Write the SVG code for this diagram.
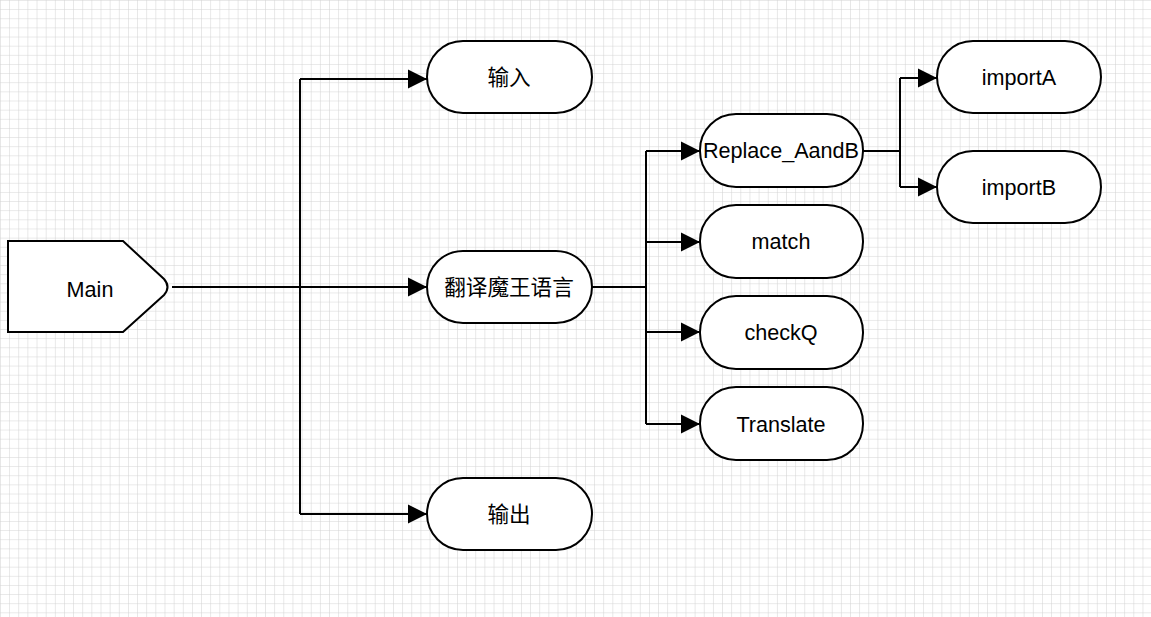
<svg xmlns="http://www.w3.org/2000/svg" width="1151" height="617" viewBox="0 0 1151 617">
<style>
.n{fill:#fff;stroke:#000;stroke-width:2}
.t{font-family:"Liberation Sans","Noto Sans CJK SC",sans-serif;font-size:21.6px;fill:#000;text-anchor:middle}
.c{fill:none;stroke:#000;stroke-width:2}
</style>
<defs>
<pattern id="g" width="9.14" height="9.14" patternUnits="userSpaceOnUse">
<path d="M0 0H9.14M0 0V9.14" fill="none" stroke="#d2d2d2" stroke-width="1"/>
</pattern>
<marker id="a2" viewBox="0 0 10 10" refX="10" refY="5" markerWidth="19" markerHeight="20" markerUnits="userSpaceOnUse" orient="auto">
<path d="M0 0L10 5L0 10Z" fill="#000"/>
</marker>
</defs>
<rect width="1151" height="617" fill="#fff"/>
<rect width="1151" height="617" fill="url(#g)"/>
<g id="connectors">
<path class="c" d="M172 287H300"/>
<path class="c" d="M300 79V514"/>
<path class="c" d="M300 79H427" marker-end="url(#a2)"/>
<path class="c" d="M300 287H427" marker-end="url(#a2)"/>
<path class="c" d="M300 514H427" marker-end="url(#a2)"/>
<path class="c" d="M592 287H646"/>
<path class="c" d="M646 151V424"/>
<path class="c" d="M646 151H700" marker-end="url(#a2)"/>
<path class="c" d="M646 242H700" marker-end="url(#a2)"/>
<path class="c" d="M646 332H700" marker-end="url(#a2)"/>
<path class="c" d="M646 424H700" marker-end="url(#a2)"/>
<path class="c" d="M863 151H900"/>
<path class="c" d="M900 78V187"/>
<path class="c" d="M900 78H937" marker-end="url(#a2)"/>
<path class="c" d="M900 187H937" marker-end="url(#a2)"/>
</g>
<g id="main">
<path class="n" d="M8 241H123L164 279Q171 287 164 295L123 332H8Z"/>
<text class="t" x="90" y="297">Main</text>
</g>
<g id="input">
<rect class="n" x="427" y="41" width="165" height="72" rx="36"/>
<text class="t" x="509" y="85">输入</text>
</g>
<g id="translate-demon">
<rect class="n" x="427" y="251" width="165" height="72" rx="36"/>
<text class="t" x="509" y="295">翻译魔王语言</text>
</g>
<g id="output">
<rect class="n" x="427" y="478" width="165" height="72" rx="36"/>
<text class="t" x="509" y="522">输出</text>
</g>
<g id="replace">
<rect class="n" x="700" y="114" width="163" height="73" rx="36"/>
<text class="t" x="781" y="158">Replace_AandB</text>
</g>
<g id="match">
<rect class="n" x="700" y="205" width="163" height="73" rx="36"/>
<text class="t" x="781" y="249">match</text>
</g>
<g id="checkQ">
<rect class="n" x="700" y="296" width="163" height="73" rx="36"/>
<text class="t" x="781" y="340">checkQ</text>
</g>
<g id="translate">
<rect class="n" x="700" y="387" width="163" height="73" rx="36"/>
<text class="t" x="781" y="432">Translate</text>
</g>
<g id="importA">
<rect class="n" x="937" y="41" width="164" height="72" rx="36"/>
<text class="t" x="1019" y="85">importA</text>
</g>
<g id="importB">
<rect class="n" x="937" y="151" width="164" height="72" rx="36"/>
<text class="t" x="1019" y="195">importB</text>
</g>
</svg>
